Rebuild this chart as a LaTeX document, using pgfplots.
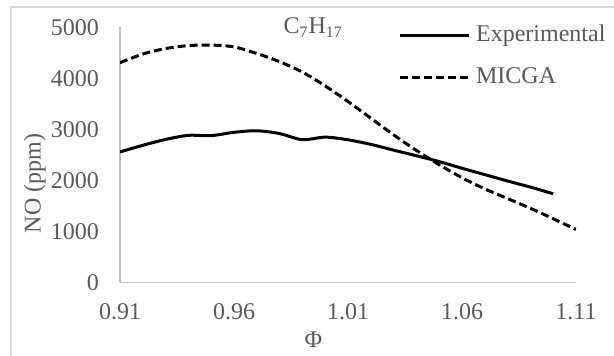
\documentclass[border=0pt]{standalone}
\usepackage{pgfplots}
\pgfplotsset{compat=1.18}
\usepackage{fontspec}
\setmainfont{Liberation Serif}
\definecolor{txt}{HTML}{595959}
\definecolor{axl}{HTML}{BFBFBF}
\definecolor{brd}{HTML}{D9D9D9}
\begin{document}
\begin{tikzpicture}
\useasboundingbox (0,0) rectangle (307pt,178pt);
\draw[brd, line width=0.7pt] (5.5pt,-3pt) rectangle (308.5pt,174.5pt);
\begin{axis}[
  at={(60pt,36.75pt)}, anchor=south west,
  scale only axis, width=228pt, height=127.5pt,
  xmin=0.91, xmax=1.11, ymin=0, ymax=5000,
  axis x line=bottom, axis y line=left,
  axis line style={-, draw=axl, line width=0.7pt},
  xtick={0.91,0.96,1.01,1.06,1.11},
  ytick={0,1000,2000,3000,4000,5000},
  major tick length=0pt,
  /pgf/number format/assume math mode=true,
  /pgf/number format/1000 sep={},
  xticklabel style={/pgf/number format/fixed, /pgf/number format/precision=2, /pgf/number format/fixed zerofill, anchor=north, inner sep=0pt, yshift=-10.25pt},
  yticklabel style={anchor=east, inner sep=0pt, xshift=-10.35pt},
  tick label style={font=\fontsize{12}{14}\selectfont, text=txt},
  legend style={at={(0.609,0.885)}, anchor=west, draw=none, fill=none, inner sep=0pt,
    font=\fontsize{12}{14}\selectfont, text=txt, row sep=4pt,
    nodes={inner sep=3pt, text height=8.5pt, text depth=2.5pt}},
  legend cell align=left,
  legend image code/.code={\draw[#1] (0pt,0pt) -- (34.5pt,0pt);},
]
\addplot[black, line width=1.5pt, smooth, tension=0.5] coordinates {
(0.91,2560) (0.92,2690) (0.93,2805) (0.94,2885) (0.95,2880) (0.96,2945)
(0.97,2975) (0.98,2920) (0.99,2800) (1.00,2850) (1.01,2798) (1.02,2708)
(1.03,2595) (1.04,2485) (1.05,2370) (1.06,2240) (1.07,2115) (1.08,1990)
(1.09,1870) (1.10,1740)};
\addlegendentry{Experimental}
\addplot[black, line width=1.5pt, smooth, tension=0.5, dash pattern=on 4pt off 2pt] coordinates {
(0.91,4310) (0.92,4480) (0.93,4587) (0.94,4645) (0.95,4655) (0.96,4620)
(0.97,4490) (0.98,4330) (0.99,4125) (1.00,3855) (1.01,3548) (1.02,3222)
(1.03,2895) (1.04,2590) (1.05,2310) (1.06,2055) (1.07,1835) (1.08,1645)
(1.09,1455) (1.10,1250) (1.11,1040)};
\addlegendentry{MICGA}
\end{axis}
\node[anchor=base, text=txt, font=\fontsize{12}{14}\selectfont] at (156.6pt,161pt) {C\textsubscript{7}H\textsubscript{17}};
\node[anchor=base, text=txt, font=\fontsize{12}{14}\selectfont] at (156.75pt,4pt) {Φ};
\node[anchor=base, rotate=90, text=txt, font=\fontsize{12}{14}\selectfont] at (20.35pt,86.25pt) {NO (ppm)};
\end{tikzpicture}
\end{document}
